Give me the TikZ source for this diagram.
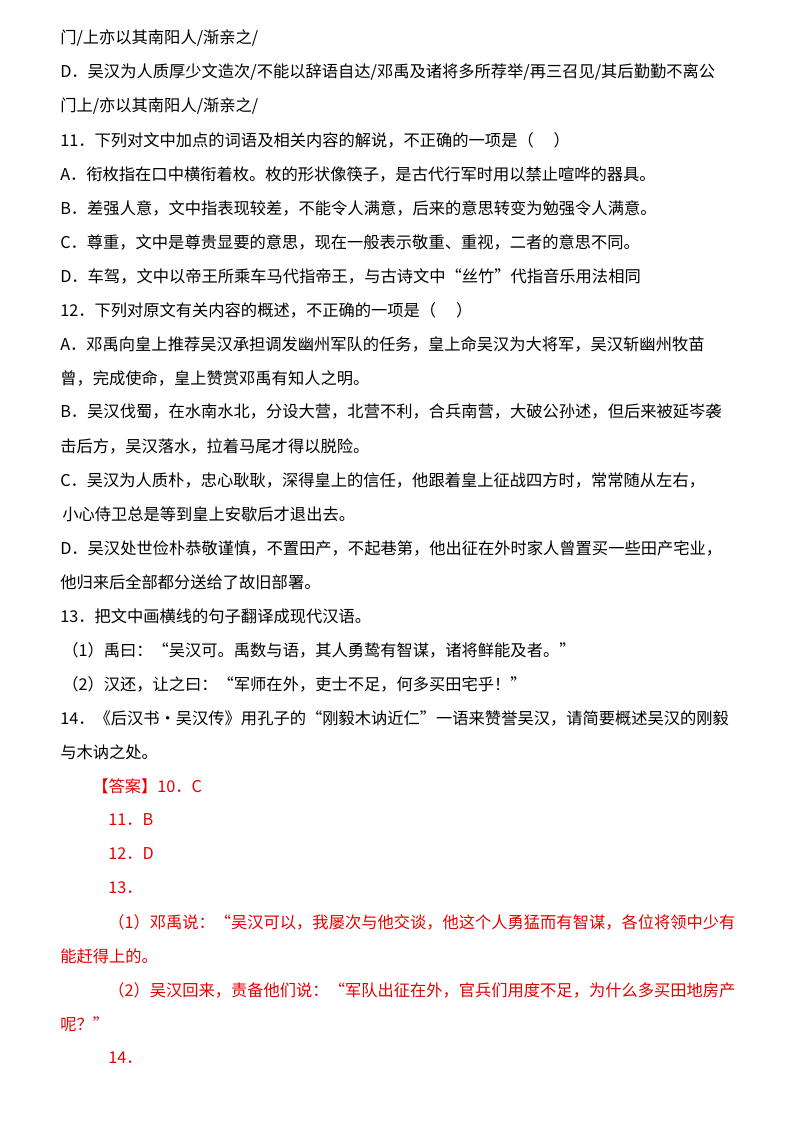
\documentclass[tikz,border=0pt]{standalone}
\usepackage{fontspec}
\setmainfont{Noto Sans CJK SC}
\definecolor{ans}{RGB}{230,0,0}
\begin{document}
\begin{tikzpicture}[x=0.75pt,y=-0.75pt,
  ln/.style={anchor=west,inner sep=0pt,font=\fontsize{12.2pt}{14pt}\selectfont},
  rd/.style={ln,text=ans}]
\useasboundingbox (0,0) rectangle (800,1132);
\node[ln] (l1) at (60,38) {门/上亦以其南阳人/渐亲之/};
\node[ln] (l2) at (60,72) {D．吴汉为人质厚少文造次/不能以辞语自达/邓禹及诸将多所荐举/再三召见/其后勤勤不离公};
\node[ln] (l3) at (60,106) {门上/亦以其南阳人/渐亲之/};
\node[ln] (l4) at (60,140) {11．下列对文中加点的词语及相关内容的解说，不正确的一项是（\quad\ ）};
\node[ln] (l5) at (60,174) {A．衔枚指在口中横衔着枚。枚的形状像筷子，是古代行军时用以禁止喧哗的器具。};
\node[ln] (l6) at (60,208) {B．差强人意，文中指表现较差，不能令人满意，后来的意思转变为勉强令人满意。};
\node[ln] (l7) at (60,242) {C．尊重，文中是尊贵显要的意思，现在一般表示敬重、重视，二者的意思不同。};
\node[ln] (l8) at (60,276) {D．车驾，文中以帝王所乘车马代指帝王，与古诗文中“丝竹”代指音乐用法相同};
\node[ln] (l9) at (60,310) {12．下列对原文有关内容的概述，不正确的一项是（\quad\ ）};
\node[ln] (l10) at (60,344) {A．邓禹向皇上推荐吴汉承担调发幽州军队的任务，皇上命吴汉为大将军，吴汉斩幽州牧苗};
\node[ln] (l11) at (60,378) {曾，完成使命，皇上赞赏邓禹有知人之明。};
\node[ln] (l12) at (60,412) {B．吴汉伐蜀，在水南水北，分设大营，北营不利，合兵南营，大破公孙述，但后来被延岑袭};
\node[ln] (l13) at (60,446) {击后方，吴汉落水，拉着马尾才得以脱险。};
\node[ln] (l14) at (60,480) {C．吴汉为人质朴，忠心耿耿，深得皇上的信任，他跟着皇上征战四方时，常常随从左右，};
\node[ln] (l15) at (62,514) {小心侍卫总是等到皇上安歇后才退出去。};
\node[ln] (l16) at (60,548) {D．吴汉处世俭朴恭敬谨慎，不置田产，不起巷第，他出征在外时家人曾置买一些田产宅业，};
\node[ln] (l17) at (60,582) {他归来后全部都分送给了故旧部署。};
\node[ln] (l18) at (60,616) {13．把文中画横线的句子翻译成现代汉语。};
\node[ln] (l19) at (62,650) {（1）禹曰：“吴汉可。禹数与语，其人勇鸷有智谋，诸将鲜能及者。”};
\node[ln] (l20) at (62,684) {（2）汉还，让之曰：“军师在外，吏士不足，何多买田宅乎！”};
\node[ln] (l21) at (60,718) {14．《后汉书·吴汉传》用孔子的“刚毅木讷近仁”一语来赞誉吴汉，请简要概述吴汉的刚毅};
\node[ln] (l22) at (60,752) {与木讷之处。};
\node[rd] (l23) at (92,786) {【答案】10．C};
\node[rd] (l24) at (108,820) {11．B};
\node[rd] (l25) at (108,854) {12．D};
\node[rd] (l26) at (108,888) {13．};
\node[rd] (l27) at (108,922) {（1）邓禹说：“吴汉可以，我屡次与他交谈，他这个人勇猛而有智谋，各位将领中少有};
\node[rd] (l28) at (60,956) {能赶得上的。};
\node[rd] (l29) at (108,990) {（2）吴汉回来，责备他们说：“军队出征在外，官兵们用度不足，为什么多买田地房产};
\node[rd] (l30) at (60,1024) {呢？”};
\node[rd] (l31) at (108,1058) {14．};
\end{tikzpicture}
\end{document}
